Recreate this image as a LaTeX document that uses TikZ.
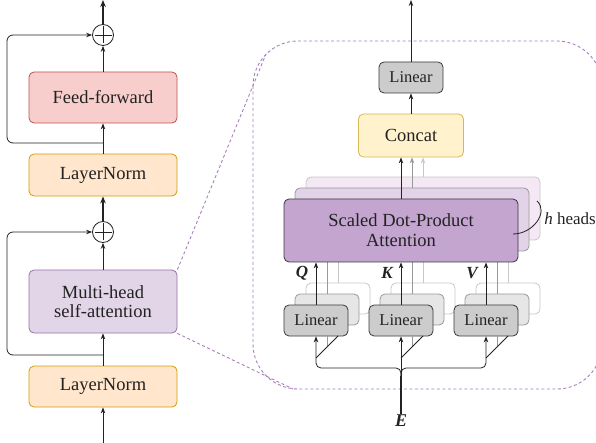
\documentclass[tikz,border=0pt]{standalone}
\usepackage{fontspec}
\setmainfont{Liberation Serif}
\usetikzlibrary{arrows.meta}
\definecolor{ffF}{HTML}{F8CECC}
\definecolor{ffD}{HTML}{B85450}
\definecolor{lnF}{HTML}{FFE6CC}
\definecolor{lnD}{HTML}{D79B00}
\definecolor{mhF}{HTML}{E1D5E7}
\definecolor{mhD}{HTML}{9673A6}
\definecolor{ccF}{HTML}{FFF2CC}
\definecolor{ccD}{HTML}{D6B656}
\definecolor{linF}{HTML}{CCCCCC}
\definecolor{darkD}{HTML}{36393D}
\definecolor{aF}{HTML}{C3A5D0}
\definecolor{a2F}{HTML}{E2D3E9}
\definecolor{a3F}{HTML}{F3E8F3}
\definecolor{midG}{HTML}{999999}
\definecolor{litG}{HTML}{C8C8C8}
\definecolor{lin2F}{HTML}{E6E6E6}
\definecolor{dshC}{HTML}{A680B8}
\definecolor{txt}{HTML}{222222}
\newcommand{\bigsz}{\fontsize{18.5}{21}\selectfont}
\newcommand{\smsz}{\fontsize{16.5}{19}\selectfont}
\newcommand{\lblsz}{\fontsize{17}{19}\selectfont}
\begin{document}
\begin{tikzpicture}[x=1pt,y=-1pt,
  box/.style={draw, rounded corners=5pt, line width=0.8pt, align=center, inner sep=0pt, font=\bigsz, text=txt},
  linbox/.style={box, font=\smsz, minimum width=64pt, minimum height=31pt},
  attbox/.style={box, minimum width=234pt, minimum height=63pt},
  ar/.style={-{Stealth[length=6pt,width=4.5pt]}, line width=0.8pt, draw=txt},
  thk/.style={-{Stealth[length=7pt,width=5.5pt]}, line width=1.6pt, draw=txt},
  plain/.style={line width=0.8pt, draw=txt},
  dsh/.style={draw=dshC, line width=0.9pt, dash pattern=on 3pt off 2.5pt},
  circ/.style={draw=txt, circle, line width=0.8pt, minimum size=21pt, inner sep=0pt},
  lbl/.style={font=\lblsz\bfseries\itshape, text=txt, inner sep=1pt}
]
\useasboundingbox (0,0) rectangle (596,443);

% ---------------- left column ----------------
\node[box, fill=ffF, draw=ffD, minimum width=148pt, minimum height=51pt] (ff) at (103,97.5) {Feed-forward};
\node[box, fill=lnF, draw=lnD, minimum width=148pt, minimum height=42pt] (ln1) at (103,175) {LayerNorm};
\node[box, fill=mhF, draw=mhD, minimum width=148pt, minimum height=63pt] (mh) at (103,301.5) {Multi-head\\[-2pt]self-attention};
\node[box, fill=lnF, draw=lnD, minimum width=148pt, minimum height=41pt] (ln2) at (103,386.5) {LayerNorm};
\node[circ] (c1) at (103,35) {};
\node[circ] (c2) at (103,232) {};
\foreach \c in {c1,c2}{
  \draw[plain] ([xshift=-8.5pt]\c.center) -- ([xshift=8.5pt]\c.center);
  \draw[plain] ([yshift=-8.5pt]\c.center) -- ([yshift=8.5pt]\c.center);
}
\coordinate (out1) at (103,0);
\coordinate (in1) at (103,443);
\coordinate (r1) at (103,143);
\coordinate (r1L) at (7,143);
\coordinate (r2) at (103,355);
\coordinate (r2L) at (7,355);

\draw[thk] (c1.north) -- (out1);
\draw[ar] (ff.north) -- (c1.south);
\draw[ar] (ln1.north) -- (ff.south);
\draw[ar, rounded corners=6pt] (r1) -- (r1L) |- (c1.west);
\draw[thk] (c2.north) -- (ln1.south);
\draw[ar] (mh.north) -- (c2.south);
\draw[ar] (ln2.north) -- (mh.south);
\draw[ar, rounded corners=6pt] (r2) -- (r2L) |- (c2.west);
\draw[ar] (in1) -- (ln2.south);

% ---------------- zoom frame ----------------
\draw[dsh, rounded corners=45pt] (253,41) rectangle (602,389);
\coordinate (z1) at (266,54);
\coordinate (z2) at (293,389);
\draw[dsh] (mh.north east) -- (z1);
\draw[dsh] (mh.south east) -- (z2);

% ---------------- right part ----------------
\node[box, fill=linF, draw=darkD, font=\smsz, minimum width=64pt, minimum height=31pt] (lt) at (411,77.5) {Linear};
\node[box, fill=ccF, draw=ccD, minimum width=105pt, minimum height=43pt] (cc) at (411,135.5) {Concat};
\coordinate (out2) at (411,0);
\draw[ar] (lt.north) -- (out2);
\draw[ar] (cc.north) -- (lt.south);

% linear boxes (back to front)
\foreach \x/\n in {316/1,401/2,486/3}{
  \node[linbox, fill=white, draw=litG] (lc\n) at (\x+22,298.5) {};
  \node[linbox, fill=lin2F, draw=midG] (lb\n) at (\x+11,309.5) {};
  \node[linbox, fill=linF, draw=darkD] (la\n) at (\x,320.5) {Linear};
}

% attention boxes (positions)
\path (423,208.5) coordinate (a3c) (412,219.5) coordinate (a2c) (401,230.5) coordinate (a1c);

% back lines from linear boxes up to attention
\foreach \n in {1,2,3}{
  \draw[line width=0.8pt, draw=litG] (lc\n.north) -- ++(0,-50);
  \draw[line width=0.8pt, draw=midG] (lb\n.north) -- ++(0,-50);
}

\node[attbox, fill=a3F, draw=litG] (a3) at (a3c) {};
\node[attbox, fill=a2F, draw=midG] (a2) at (a2c) {};
\node[attbox, fill=aF, draw=darkD] (a1) at (a1c) {Scaled Dot-Product\\[-1pt]Attention};

\foreach \n in {1,2,3}{
  \draw[ar] (la\n.north) -- (la\n.north |- a1.south);
}

\draw[ar, draw=litG] (a3.north) -- (a3.north |- cc.south);
\draw[ar, draw=midG] (a2.north) -- (a2.north |- cc.south);
\draw[ar] (a1.north) -- (a1.north |- cc.south);

% Q K V labels
\node[lbl] (q) at (302,273) {Q};
\node[lbl] (k) at (387,273) {K};
\node[lbl] (v) at (472,273) {V};

% h heads
\node[font=\lblsz, text=txt, inner sep=0pt] (hh) at (570,219) {\textit{h} heads};
\coordinate (b1) at (513,234);
\coordinate (b2) at (537,201);
\draw[plain] (b1) .. controls (533,234) and (549,212) .. (b2);

% input E
\node[lbl, font=\fontsize{18}{20}\selectfont\bfseries\itshape] (E) at (401,421) {E};
\coordinate (j) at (401,376);
\coordinate (h1) at (316,368);
\coordinate (h3) at (486,368);
\draw[line width=1.6pt, draw=txt] (E.north) -- (j);
\draw[ar, rounded corners=5pt] (j) |- (h1) -- (la1.south);
\draw[ar, rounded corners=5pt] (j) |- (h3) -- (la3.south);
\draw[ar] (j) -- (la2.south);

\foreach \x/\n in {316/1,401/2,486/3}{
  \coordinate (dA\n) at (\x,358);
  \coordinate (dB\n) at (\x+22,336);
  \coordinate (dC\n) at (\x+11,347);
  \coordinate (dD\n) at (\x+11,336);
  \draw[line width=0.8pt, draw=midG] (dC\n) -- (dD\n);
  \draw[plain] (dA\n) -- (dB\n);
}
\end{tikzpicture}
\end{document}
